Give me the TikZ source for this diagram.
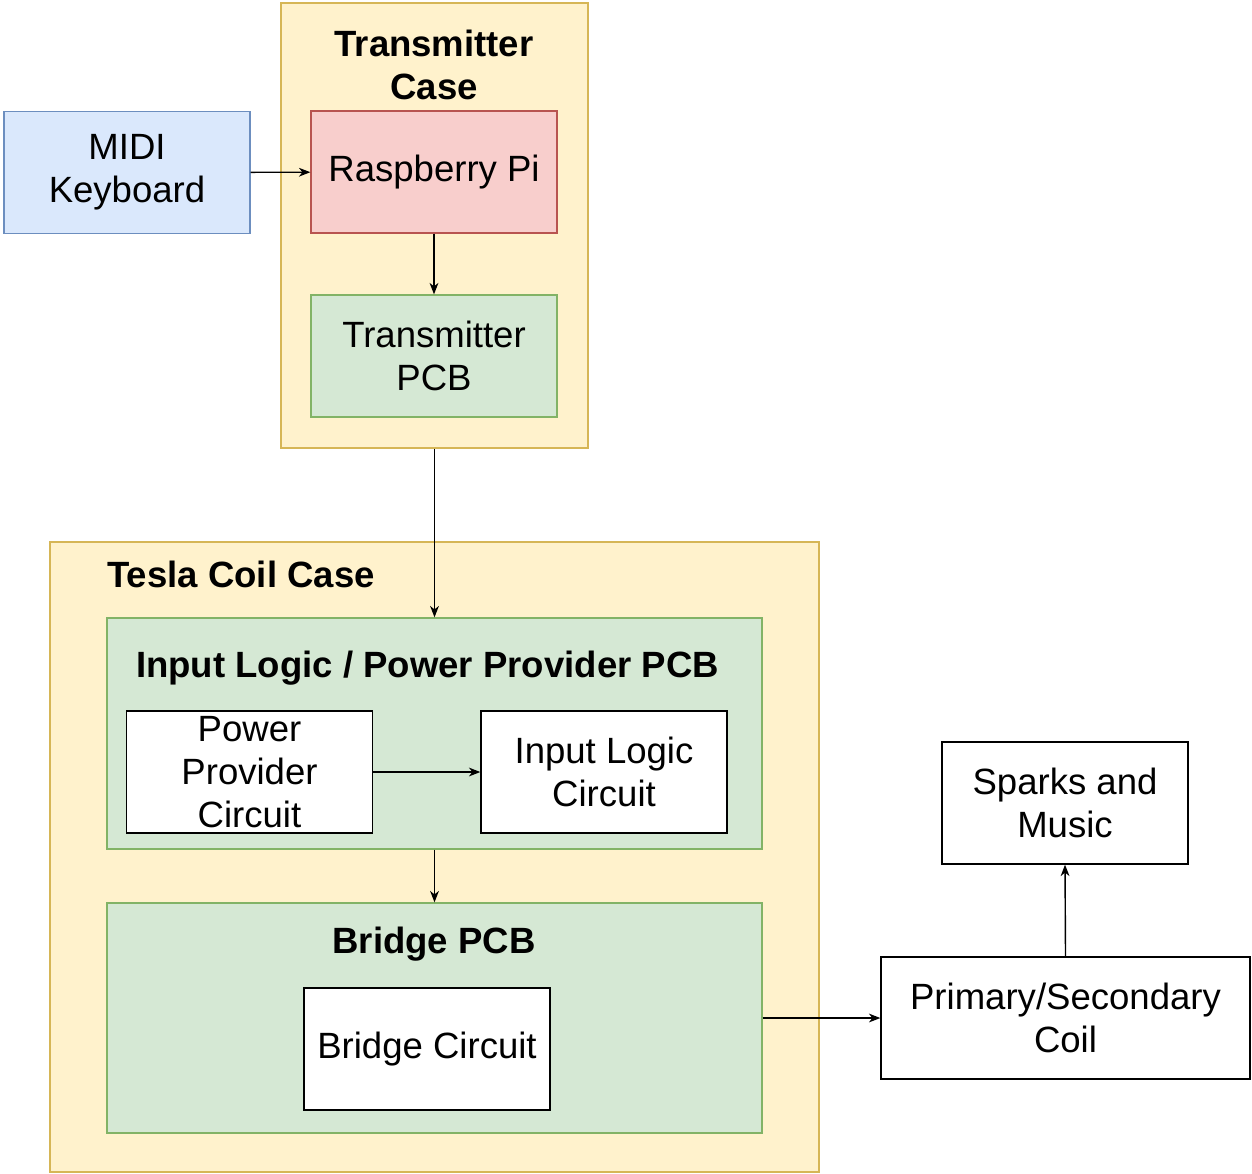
\documentclass[tikz,border=0pt]{standalone}
\usepackage{fontspec}
\setmainfont{Liberation Sans}
\usetikzlibrary{arrows.meta,
                positioning
            }

\definecolor{caseyellow}{HTML}{FFF2CC}
\definecolor{caseline}{HTML}{D6B656}
\definecolor{pcbgreen}{HTML}{D5E8D4}
\definecolor{pcbline}{HTML}{82B366}
\definecolor{pired}{HTML}{F8CECC}
\definecolor{piline}{HTML}{B85450}
\definecolor{midiblue}{HTML}{DAE8FC}
\definecolor{midiline}{HTML}{6C8EBF}

\tikzset{
    blockbox/.style={draw, line width=0.75pt, minimum width=4.92cm, minimum height=2.44cm,
                     align=center, inner sep=0pt, font=\fontsize{20.8}{24.4}\selectfont},
    casebox/.style={draw=caseline, fill=caseyellow, line width=0.75pt, inner sep=0pt},
    pcbbox/.style={draw=pcbline, fill=pcbgreen, line width=0.75pt, inner sep=0pt},
    titletext/.style={align=center, inner sep=0pt, font=\fontsize{20.8}{24.4}\selectfont\bfseries},
    flow/.style={-{Stealth[length=6.5pt, width=5pt, inset=2pt]}, line width=0.8pt}
}

\begin{document}
\begin{tikzpicture}
            \useasboundingbox (0, 0) rectangle (25.04, -23.46);
            % cases
            \node[casebox, minimum width=6.14cm, minimum height=8.9cm] (txcase) at (8.69, -4.51) {};
            \node[casebox, minimum width=15.38cm, minimum height=12.6cm] (teslacase) at (8.69, -17.14) {};
            \node[titletext] (txtitle) at (8.68, -1.3) {Transmitter\\Case};
            \node[titletext, anchor=west] (teslatitle) at (2.14, -11.48) {Tesla Coil Case};
            % pcbs
            \node[pcbbox, minimum width=13.1cm, minimum height=4.62cm] (ilpcb) at (8.69, -14.67) {};
            \node[pcbbox, minimum width=13.1cm, minimum height=4.6cm] (bridgepcb) at (8.69, -20.36) {};
            \node[titletext] (iltitle) at (8.55, -13.36) {Input Logic / Power Provider PCB};
            \node[titletext] (bridgetitle) at (8.68, -18.88) {Bridge PCB};
            % blocks
            \node[blockbox, draw=midiline, fill=midiblue] (midi) at (2.54, -3.45) {MIDI\\Keyboard};
            \node[blockbox, draw=piline, fill=pired] (rpi) at (8.68, -3.44) {Raspberry Pi};
            \node[blockbox, draw=pcbline, fill=pcbgreen] (txpcb) at (8.68, -7.12) {Transmitter\\PCB};
            \node[blockbox, fill=white, inner ysep=-3.5pt] (power) at (4.99, -15.44) {Power\\Provider\\Circuit};
            \node[blockbox, fill=white] (logic) at (12.08, -15.44) {Input Logic\\Circuit};
            \node[blockbox, fill=white] (bridge) at (8.54, -20.98) {Bridge Circuit};
            \node[blockbox, fill=white, minimum width=7.38cm] (coil) at (21.31, -20.36) {Primary/Secondary\\Coil};
            \node[blockbox, fill=white] (sparks) at (21.3, -16.06) {Sparks and\\Music};
            % connectors
            \draw[flow] (midi) -- (rpi);
            \draw[flow] (rpi) -- (txpcb);
            \draw[flow] (txcase.south) -- (ilpcb.north);
            \draw[flow] (power) -- (logic);
            \draw[flow] (ilpcb.south) -- (bridgepcb.north);
            \draw[flow] (bridgepcb.east) -- (coil.west);
            \draw[flow] (coil.north) -- (sparks.south);
        \end{tikzpicture}
\end{document}
